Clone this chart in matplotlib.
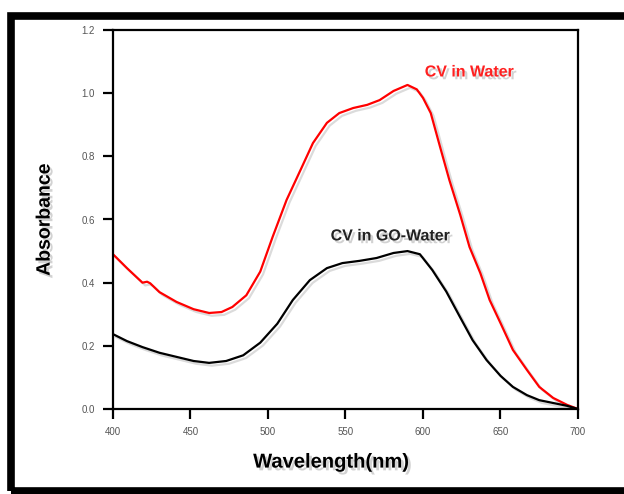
import matplotlib
matplotlib.use("Agg")
import matplotlib.pyplot as plt
import matplotlib.patheffects as pe
from matplotlib.patches import Rectangle

plt.rcParams['font.family'] = ['Liberation Sans', 'DejaVu Sans']

# wavelength (nm) and absorbance
wl_water = [400, 409, 419, 422, 424, 430, 441, 452, 462, 470, 477, 486, 495, 503, 512,
            521, 529, 538, 546, 555, 564, 572, 581, 590, 596, 600, 605, 611, 617,
            624, 630, 637, 643, 650, 658, 667, 675, 684, 693, 700]
abs_water = [0.490, 0.446, 0.400, 0.403, 0.398, 0.370, 0.339, 0.316, 0.304, 0.307,
             0.323, 0.360, 0.435, 0.545, 0.662, 0.757, 0.842, 0.906, 0.937, 0.953,
             0.963, 0.978, 1.007, 1.026, 1.012, 0.985, 0.937, 0.830, 0.725, 0.615,
             0.513, 0.430, 0.345, 0.272, 0.187, 0.124, 0.070, 0.035, 0.013, 0.0]

wl_go = [400, 409, 419, 430, 441, 452, 462, 473, 484, 495, 506, 516, 527, 538, 548,
         559, 570, 581, 590, 598, 606, 615, 624, 632, 641, 650, 658, 667, 675, 684,
         693, 700]
abs_go = [0.237, 0.215, 0.196, 0.178, 0.165, 0.152, 0.146, 0.152, 0.170, 0.210, 0.270,
          0.345, 0.408, 0.446, 0.462, 0.469, 0.478, 0.494, 0.500, 0.490, 0.440,
          0.372, 0.290, 0.218, 0.155, 0.105, 0.070, 0.044, 0.028, 0.019, 0.010, 0.0]

fig = plt.figure(figsize=(6.24, 4.94), dpi=100)
fig.patch.set_facecolor('white')

# thick black frame around the picture (open on the right)
fig.patches.append(Rectangle((10.5 / 624, 3.5 / 494), 700 / 624, 474 / 494,
                             transform=fig.transFigure, fill=False, edgecolor='black',
                             linewidth=5.5, zorder=0))

ax = fig.add_axes([113 / 624, 85 / 494, 465 / 624, 379 / 494])

line_shadow = [pe.SimpleLineShadow(offset=(2, -2), shadow_color='0.6', alpha=0.35), pe.Normal()]
ax.plot(wl_water, abs_water, color='#ff0000', lw=1.6, path_effects=line_shadow)
ax.plot(wl_go, abs_go, color='black', lw=1.6, path_effects=line_shadow)

ax.set_xlim(400, 700)
ax.set_ylim(0, 1.2)
ax.set_xticks([400, 450, 500, 550, 600, 650, 700])
ax.set_yticks([0.0, 0.2, 0.4, 0.6, 0.8, 1.0, 1.2])
ax.set_yticklabels(['0.0', '0.2', '0.4', '0.6', '0.8', '1.0', '1.2'])
ax.tick_params(direction='out', length=7, width=1.6, labelsize=7, labelcolor='#555555',
               pad=6)

for s in ax.spines.values():
    s.set_linewidth(1.6)

text_shadow = [pe.withSimplePatchShadow(offset=(2, -2), shadow_rgbFace='0.5', alpha=0.35)]
ax.set_xlabel('Wavelength(nm)', fontsize=14.5, fontweight='bold',
              path_effects=text_shadow)
ax.xaxis.set_label_coords(0.469, -0.115)
ax.set_ylabel('Absorbance', fontsize=14, fontweight='bold', labelpad=20,
              path_effects=text_shadow)

ax.text(630, 1.067, 'CV in Water', color='#ff2020', fontsize=11.5, fontweight='bold',
        ha='center', va='center', path_effects=text_shadow)
ax.text(579, 0.548, 'CV in GO-Water', color='#222222', fontsize=11.5, fontweight='bold',
        ha='center', va='center', path_effects=text_shadow)

fig.savefig('out.png', dpi=100)
